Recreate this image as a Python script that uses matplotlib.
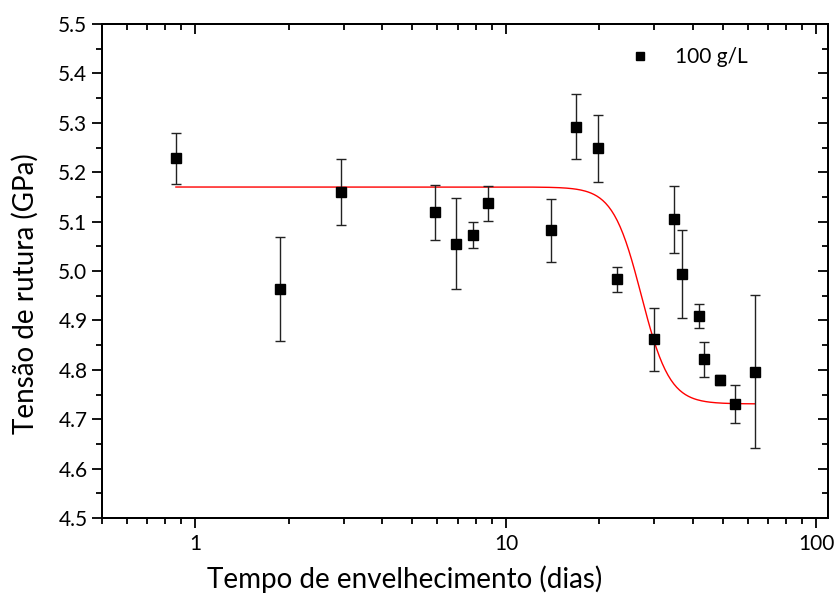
import matplotlib
matplotlib.use("Agg")
import matplotlib.pyplot as plt
import numpy as np
from matplotlib.ticker import LogLocator, NullFormatter, FixedLocator, MultipleLocator

plt.rcParams['font.family'] = ['Liberation Sans Narrow', 'Lato', 'DejaVu Sans']

# Data
dias = [0.865, 1.87, 2.95, 5.93, 6.9, 7.85, 8.77, 13.95, 16.8, 19.8, 22.8,
        29.9, 34.9, 36.9, 41.8, 43.6, 48.8, 54.8, 63.5]
tensao = [5.228, 4.963, 5.160, 5.119, 5.055, 5.073, 5.137, 5.082, 5.292, 5.248, 4.983,
          4.862, 5.105, 4.994, 4.909, 4.821, 4.779, 4.731, 4.796]
erro = [0.052, 0.105, 0.066, 0.056, 0.092, 0.026, 0.035, 0.063, 0.066, 0.067, 0.025,
        0.064, 0.068, 0.089, 0.025, 0.036, 0.010, 0.038, 0.155]

# Fit parameters (logistic)
A1, A2, x0, p = 5.17, 4.731, 27.3, 9.5
serie_label = "100 g/L"
xticks = [1, 10, 100]
xticklabels = ["1", "10", "100"]
yticks = [4.5, 4.6, 4.7, 4.8, 4.9, 5.0, 5.1, 5.2, 5.3, 5.4, 5.5]

W, H = 838, 598
fig = plt.figure(figsize=(W / 100, H / 100), dpi=100)
L, R, T, B = 102, 828, 24, 518
ax = fig.add_axes([L / W, 1 - B / H, (R - L) / W, (B - T) / H])

ax.set_xscale('log')
xmin, xmax = 0.5, 109
ax.set_xlim(xmin, xmax)
ax.set_ylim(4.5, 5.5)

xf = np.logspace(np.log10(dias[0]), np.log10(dias[-1]), 400)
yf = A2 + (A1 - A2) / (1 + (xf / x0) ** p)
ax.plot(xf, yf, color='red', lw=1.0, zorder=2)

ax.errorbar(dias, tensao, yerr=erro, fmt='none', ecolor='#222222', elinewidth=1.0,
            capsize=3.8, capthick=1.0, zorder=3)
ax.plot(dias, tensao, 's', color='black', ms=7.2, mec='black', zorder=4, label=serie_label)

leg = ax.legend(loc='upper left', bbox_to_anchor=((619 - L) / (R - L), 1 - (47 - T) / (B - T)),
                frameon=False, fontsize=15, handletextpad=0.7, markerscale=0.8,
                borderaxespad=0, borderpad=0)

lw = 1.3
for s in ax.spines.values():
    s.set_linewidth(lw)

ax.xaxis.set_major_locator(FixedLocator(xticks))
ax.set_xticklabels(xticklabels)
ax.xaxis.set_minor_locator(LogLocator(base=10, subs=np.arange(2, 10)))
ax.xaxis.set_minor_formatter(NullFormatter())
ax.set_yticks(yticks)
ax.set_yticklabels([f"{v:.1f}" for v in yticks])
ax.yaxis.set_minor_locator(MultipleLocator(0.05))

ax.tick_params(which='major', direction='out', length=7.5, width=lw, labelsize=15, pad=3)
ax.tick_params(which='minor', direction='out', length=4.5, width=lw)
ax.tick_params(axis='x', which='major', pad=4)

# top axis (ticks inward)
axt = ax.twiny()
axt.set_xscale('log')
axt.set_xlim(xmin, xmax)
axt.xaxis.set_major_locator(FixedLocator(xticks))
axt.xaxis.set_minor_locator(LogLocator(base=10, subs=np.arange(2, 10)))
axt.xaxis.set_major_formatter(NullFormatter())
axt.xaxis.set_minor_formatter(NullFormatter())
axt.tick_params(which='major', direction='in', length=7.5, width=lw)
axt.tick_params(which='minor', direction='in', length=4.5, width=lw)

# right axis (ticks inward)
axr = ax.twinx()
axr.set_ylim(4.5, 5.5)
axr.set_yticks(yticks)
axr.yaxis.set_minor_locator(MultipleLocator(0.05))
axr.yaxis.set_major_formatter(NullFormatter())
axr.tick_params(which='major', direction='in', length=7.5, width=lw)
axr.tick_params(which='minor', direction='in', length=4.5, width=lw)
for a in (axt, axr):
    for s in a.spines.values():
        s.set_linewidth(lw)

fig.text(405 / W, 1 - 588 / H, "Tempo de envelhecimento (dias)", ha='center', va='baseline', fontsize=20)
fig.text(25 / W, 1 - 294 / H, "Tensão de rutura (GPa)", ha='center', va='center',
         rotation=90, fontsize=20)

fig.savefig("out.png", dpi=100)
